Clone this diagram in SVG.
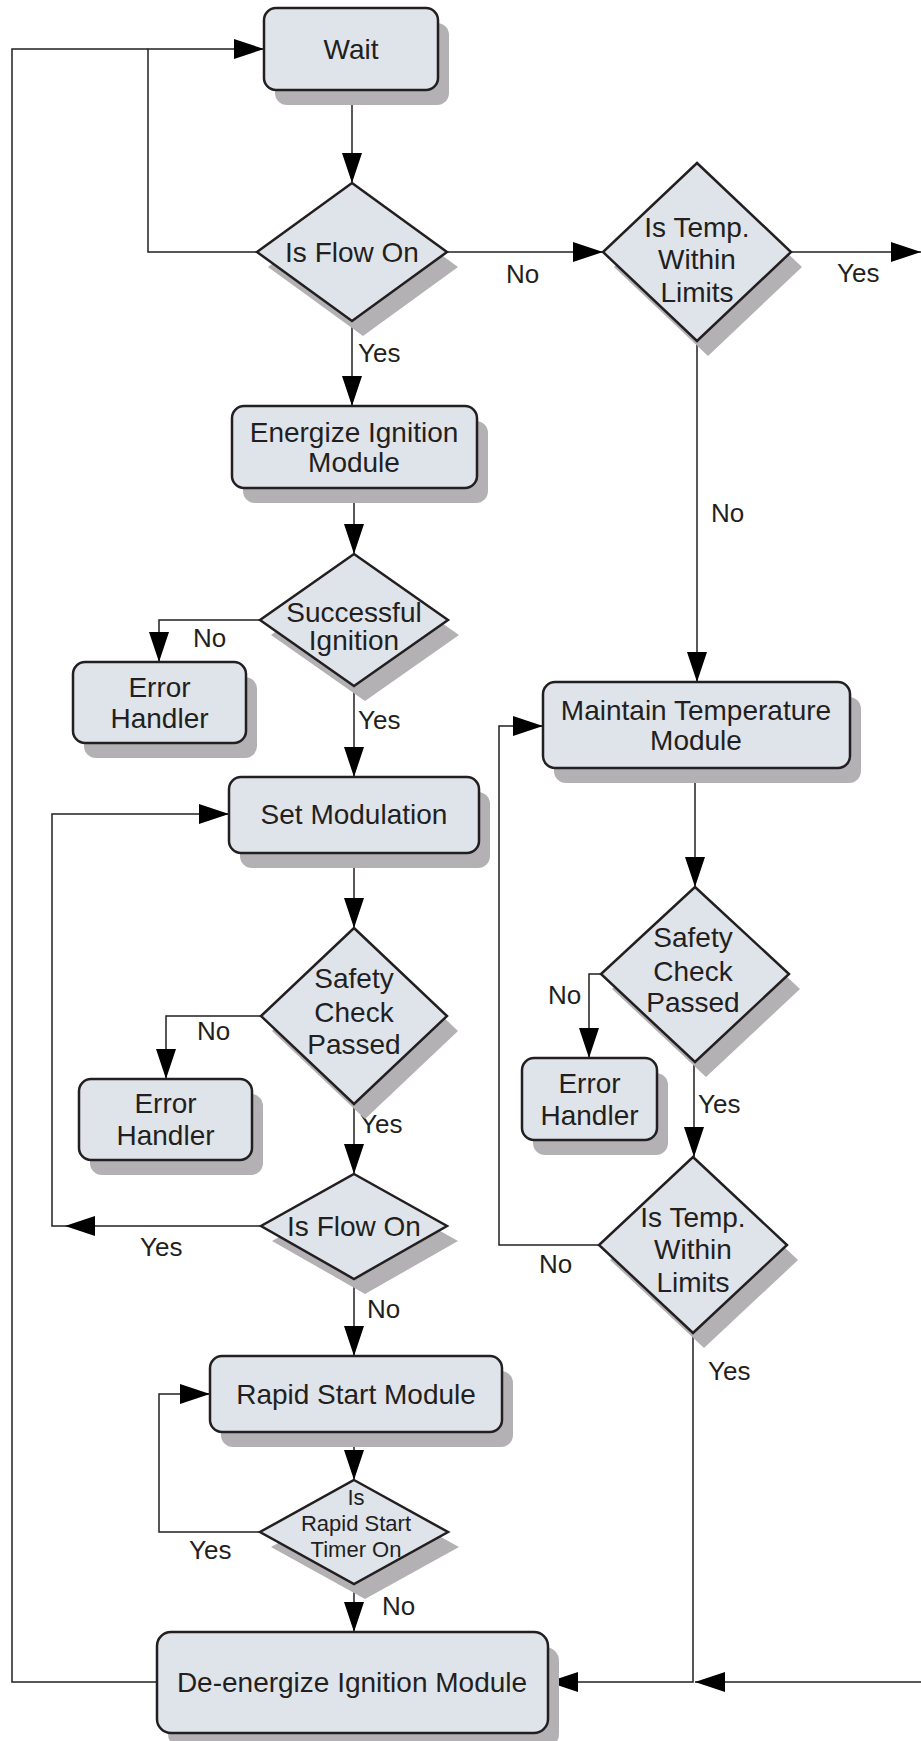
<svg xmlns="http://www.w3.org/2000/svg" width="921" height="1741" viewBox="0 0 921 1741">
<style>
.sh{fill:#b3b1b3;stroke:none}
.nd{fill:#dfe3ea;stroke:#231f20;stroke-width:2.5}
.t{font-family:"Liberation Sans",Arial,sans-serif;font-size:28px;fill:#231f20;text-anchor:middle}
.ts{font-family:"Liberation Sans",Arial,sans-serif;font-size:22px;fill:#231f20;text-anchor:middle}
.lb{font-family:"Liberation Sans",Arial,sans-serif;font-size:26px;fill:#231f20}
.c{fill:none;stroke:#231f20;stroke-width:1.5}
.a{marker-end:url(#ah)}
</style>
<defs>
<marker id="ah" markerUnits="userSpaceOnUse" markerWidth="30" markerHeight="20" refX="30" refY="10" orient="auto">
<path d="M0,0 L30,10 L0,20 z" fill="#000"/>
</marker>
</defs>
<rect width="921" height="1741" fill="#fff"/>

<g id="connectors">
<path class="c a" d="M352,90 V183"/>
<path class="c a" d="M257,252 H148 V49 H264"/>
<path class="c" d="M157,1682 H12 V49 H148"/>
<path class="c a" d="M447,252 H603"/>
<path class="c a" d="M791,252 H921"/>
<path class="c a" d="M697,341 V682"/>
<path class="c a" d="M352,321 V406"/>
<path class="c a" d="M354,488 V554"/>
<path class="c a" d="M260,620 H159 V662"/>
<path class="c a" d="M354,686 V777"/>
<path class="c a" d="M354,853 V928"/>
<path class="c a" d="M261,1016 H166 V1079"/>
<path class="c a" d="M354,1104 V1174"/>
<path class="c a" d="M261,1226 H65"/>
<path class="c a" d="M65,1226 H52 V814 H229"/>
<path class="c a" d="M354,1279 V1356"/>
<path class="c a" d="M354,1432 V1480"/>
<path class="c a" d="M260,1532 H159 V1394 H210"/>
<path class="c a" d="M354,1584 V1632"/>
<path class="c a" d="M695,768 V887"/>
<path class="c a" d="M601,974 H589 V1058"/>
<path class="c a" d="M694,1062 V1157"/>
<path class="c a" d="M599,1245 H499 V726 H543"/>
<path class="c a" d="M693,1333 V1682 H548"/>
<path class="c a" d="M921,1682 H695"/>
<text class="lb" x="506" y="283">No</text>
<text class="lb" x="837" y="282">Yes</text>
<text class="lb" x="711" y="522">No</text>
<text class="lb" x="358" y="362">Yes</text>
<text class="lb" x="193" y="647">No</text>
<text class="lb" x="358" y="729">Yes</text>
<text class="lb" x="197" y="1040">No</text>
<text class="lb" x="360" y="1133">Yes</text>
<text class="lb" x="140" y="1256">Yes</text>
<text class="lb" x="367" y="1318">No</text>
<text class="lb" x="189" y="1559">Yes</text>
<text class="lb" x="382" y="1615">No</text>
<text class="lb" x="548" y="1004">No</text>
<text class="lb" x="698" y="1113">Yes</text>
<text class="lb" x="539" y="1273">No</text>
<text class="lb" x="708" y="1380">Yes</text>
</g>

<g id="wait">
<rect class="sh" x="275" y="23" width="174" height="82" rx="12"/>
<rect class="nd" x="264" y="8" width="174" height="82" rx="12"/>
<text class="t" x="351" y="59">Wait</text>
</g>

<g id="isflow1">
<path class="sh" d="M363,198 L458,267 L363,336 L268,267 z"/>
<path class="nd" d="M352,183 L447,252 L352,321 L257,252 z"/>
<text class="t" x="352" y="262">Is Flow On</text>
</g>

<g id="temp1">
<path class="sh" d="M708,178 L802,267 L708,356 L614,267 z"/>
<path class="nd" d="M697,163 L791,252 L697,341 L603,252 z"/>
<text class="t" x="697" y="237">Is Temp.</text>
<text class="t" x="697" y="269">Within</text>
<text class="t" x="697" y="302">Limits</text>
</g>

<g id="energize">
<rect class="sh" x="243" y="421" width="245" height="82" rx="12"/>
<rect class="nd" x="232" y="406" width="245" height="82" rx="12"/>
<text class="t" x="354" y="442">Energize Ignition</text>
<text class="t" x="354" y="472">Module</text>
</g>

<g id="successful">
<path class="sh" d="M365,569 L459,635 L365,701 L271,635 z"/>
<path class="nd" d="M354,554 L448,620 L354,686 L260,620 z"/>
<text class="t" x="354" y="622">Successful</text>
<text class="t" x="354" y="650">Ignition</text>
</g>

<g id="error1">
<rect class="sh" x="84" y="677" width="173" height="81" rx="12"/>
<rect class="nd" x="73" y="662" width="173" height="81" rx="12"/>
<text class="t" x="159.5" y="697">Error</text>
<text class="t" x="159.5" y="728">Handler</text>
</g>

<g id="setmod">
<rect class="sh" x="240" y="792" width="250" height="76" rx="12"/>
<rect class="nd" x="229" y="777" width="250" height="76" rx="12"/>
<text class="t" x="354" y="824">Set Modulation</text>
</g>

<g id="safety1">
<path class="sh" d="M365,943 L458,1031 L365,1119 L272,1031 z"/>
<path class="nd" d="M354,928 L447,1016 L354,1104 L261,1016 z"/>
<text class="t" x="354" y="988">Safety</text>
<text class="t" x="354" y="1022">Check</text>
<text class="t" x="354" y="1054">Passed</text>
</g>

<g id="error2">
<rect class="sh" x="90" y="1094" width="173" height="81" rx="12"/>
<rect class="nd" x="79" y="1079" width="173" height="81" rx="12"/>
<text class="t" x="165.5" y="1113">Error</text>
<text class="t" x="165.5" y="1145">Handler</text>
</g>

<g id="isflow2">
<path class="sh" d="M365,1189 L458,1241 L365,1294 L272,1241 z"/>
<path class="nd" d="M354,1174 L447,1226 L354,1279 L261,1226 z"/>
<text class="t" x="354" y="1236">Is Flow On</text>
</g>

<g id="rapid">
<rect class="sh" x="221" y="1371" width="292" height="76" rx="12"/>
<rect class="nd" x="210" y="1356" width="292" height="76" rx="12"/>
<text class="t" x="356" y="1404">Rapid Start Module</text>
</g>

<g id="israpid">
<path class="sh" d="M365,1495 L459,1547 L365,1599 L271,1547 z"/>
<path class="nd" d="M354,1480 L448,1532 L354,1584 L260,1532 z"/>
<text class="ts" x="356" y="1505">Is</text>
<text class="ts" x="356" y="1531">Rapid Start</text>
<text class="ts" x="356" y="1557">Timer On</text>
</g>

<g id="deenergize">
<rect class="sh" x="168" y="1647" width="391" height="101" rx="14"/>
<rect class="nd" x="157" y="1632" width="391" height="101" rx="14"/>
<text class="t" x="352" y="1692">De-energize Ignition Module</text>
</g>

<g id="maintain">
<rect class="sh" x="554" y="697" width="307" height="86" rx="12"/>
<rect class="nd" x="543" y="682" width="307" height="86" rx="12"/>
<text class="t" x="696" y="720">Maintain Temperature</text>
<text class="t" x="696" y="750">Module</text>
</g>

<g id="safety2">
<path class="sh" d="M706,902 L800,989 L706,1077 L612,989 z"/>
<path class="nd" d="M695,887 L789,974 L695,1062 L601,974 z"/>
<text class="t" x="693" y="947">Safety</text>
<text class="t" x="693" y="981">Check</text>
<text class="t" x="693" y="1012">Passed</text>
</g>

<g id="error3">
<rect class="sh" x="533" y="1073" width="135" height="82" rx="12"/>
<rect class="nd" x="522" y="1058" width="135" height="82" rx="12"/>
<text class="t" x="589.5" y="1093">Error</text>
<text class="t" x="589.5" y="1125">Handler</text>
</g>

<g id="temp2">
<path class="sh" d="M704,1172 L798,1260 L704,1348 L610,1260 z"/>
<path class="nd" d="M693,1157 L787,1245 L693,1333 L599,1245 z"/>
<text class="t" x="693" y="1227">Is Temp.</text>
<text class="t" x="693" y="1259">Within</text>
<text class="t" x="693" y="1292">Limits</text>
</g>
</svg>
